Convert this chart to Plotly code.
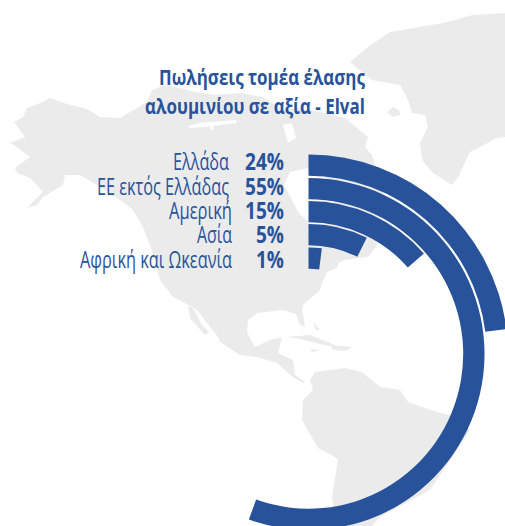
import json
import plotly.graph_objects as go

title_lines = ["Πωλήσεις τομέα έλασης", "αλουμινίου σε αξία - Elval"]
regions = ["Ελλάδα", "ΕΕ εκτός Ελλάδας", "Αμερική", "Ασία", "Αφρική και Ωκεανία"]
value_labels = ["24%", "55%", "15%", "5%", "1%"]
# share of a full turn swept by each arc, as measured on the picture
arc_share = [23.0, 55.5, 13.6, 7.4, 2.0]

BLUE = "#28539a"
LAND = "#ebebeb"
FONT = "Open Sans"
W, H = 617, 708          # page is cropped by the window; polar centre = (308.5, 354), 1 unit = 1 px

north_america = [(14,122),(23,117),(27,108),(40,103),(50,98),(67,104),(87,109),(100,117),(120,118),(137,108),(147,102),
    (152,90),(165,85),(180,88),(195,92),(215,95),(240,93),(262,97),(285,110),(300,108),(320,112),(345,118),(368,137),
    (365,147),(372,155),(385,200),(378,235),(376,247),(368,257),(358,258),(345,260),(338,263),(338,267),(327,272),(322,283),(320,290),
    (303,305),(302,310),(305,327),(300,325),(296,314),(283,310),(257,313),(248,320),(247,332),(255,347),(270,340),(282,337),
    (278,353),(293,360),(295,375),(305,382),(303,383),(293,377),(277,363),(257,357),(240,355),(220,342),(218,337),(197,310),
    (187,304),(173,297),(160,280),(153,253),(143,227),(133,210),(123,202),(100,187),(80,175),(65,175),(63,185),(43,197),
    (37,205),(27,208),(43,192),(30,178),(17,173),(15,168),(30,157),(17,147),(10,143),(25,137)]
baja = [(188,306),(193,308),(202,325),(209,332),(205,335),(190,318)]
greenland = [(350,62),(368,47),(390,32),(443,23),(473,15),(505,13),(505,137),(497,138),(470,152),(458,177),(452,185),
    (433,173),(422,160),(420,143),(428,127),(425,115),(412,113),(408,100),(400,85),(372,80),(357,68)]
iceland = [(387,112),(393,107),(399,110),(400,115),(393,117)]
cuba = [(287,337),(310,335),(330,343),(340,348),(320,344),(300,339)]
hispaniola = [(330,345),(352,347),(346,351),(333,350)]
jamaica = [(310,349),(320,350),(312,352)]
bahamas = [(313,322),(320,330),(316,330)]
south_america = [(310,380),(315,372),(330,370),(345,368),(362,372),(380,387),(400,390),(408,402),(437,412),(450,415),
    (470,430),(430,490),(393,510),(380,517),(372,526),(333,526),(333,503),(332,497),(338,460),(335,457),(318,448),
    (302,420),(303,400),(313,390)]
hudson_bay = [(290,172),(308,168),(330,180),(335,215),(320,230),(308,222),(298,212),(292,200),(284,185)]
channel_a = [(188,126),(200,123),(236,120),(237,123),(205,127),(190,128)]
channel_b = [(283,125),(292,123),(296,138),(288,143)]
channel_c = [(208,122),(211,122),(214,130),(211,130)]


def land_path(points):
    return "M" + "L".join(f"{x/W:.5f},{1-y/H:.5f}" for x, y in points) + "Z"


shapes = [dict(type="path", xref="paper", yref="paper", layer="below", line_width=0,
               fillcolor=LAND, path=land_path(p))
          for p in (north_america, baja, greenland, iceland, cuba, hispaniola, jamaica, bahamas, south_america)]
shapes += [dict(type="path", xref="paper", yref="paper", layer="below", line_width=0,
                fillcolor="white", path=land_path(p))
           for p in (hudson_bay, channel_a, channel_b, channel_c)]

# ring geometry
ring_outer = [199.5, 176.0, 153.0, 130.0, 106.5]
ring_width = 21.3

fig = go.Figure()
fig.add_trace(go.Barpolar(
    theta=[s * 3.6 / 2 for s in arc_share],
    width=[s * 3.6 for s in arc_share],
    r=[ring_width] * len(arc_share),
    base=[o - ring_width for o in ring_outer],
    marker=dict(color=BLUE, line=dict(width=0)),
    text=regions,
    hoverinfo="text",
))

text_widths = []


def note(right, y, text, size, width, bold=False):
    text_widths.append(width)
    return dict(x=(right - width / 2) / W, y=1 - y / H, xref="paper", yref="paper",
                xanchor="center", yanchor="middle", text=text, showarrow=False,
                width=width + 2, height=22, borderpad=0,
                font=dict(family=FONT, size=size, color=BLUE, weight=700 if bold else 400))


annotations = [note(365, 76, title_lines[0], 22, 206, True),
               note(365, 105, title_lines[1], 22, 220, True)]
label_right = [229, 229, 232, 232, 232]
label_width = [56, 132, 63, 35, 152]
value_width = [39, 39, 39, 28, 28]
row_y = [161, 186, 210, 234, 259]
for name, value, xr, lw, vw, y in zip(regions, value_labels, label_right, label_width, value_width, row_y):
    annotations.append(note(xr, y, name, 23, lw))
    annotations.append(note(284, y, value, 22.5, vw, True))

fig.update_layout(
    width=W, height=H, margin=dict(l=0, r=0, t=0, b=0), autosize=False,
    paper_bgcolor="white", showlegend=False,
    polar=dict(
        domain=dict(x=[0, 1], y=[0, 1]),
        bgcolor="rgba(0,0,0,0)",
        angularaxis=dict(visible=False, direction="clockwise", rotation=90, thetaunit="degrees"),
        radialaxis=dict(visible=False, range=[0, W / 2]),
        bargap=0,
    ),
    shapes=shapes,
    annotations=annotations,
)

squeeze = (
    "document.body.style.margin='0';"
    "document.documentElement.style.overflow='hidden';document.body.style.overflow='hidden';"
    f"var tw={json.dumps(text_widths)};"
    "document.querySelectorAll('.annotation-text').forEach(function(t,i){"
    "t.removeAttribute('clip-path');t.style.clipPath='none';"
    "var p=t.parentNode;if(p){p.removeAttribute('clip-path');}"
    "var b=t.getBBox();var s=tw[i]/b.width;var c=b.x+b.width/2;"
    "t.setAttribute('transform','translate('+c+',0) scale('+s+',1) translate('+(-c)+',0)');});"
)
fig.write_html("out.html", config={"displayModeBar": False}, post_script=squeeze)
